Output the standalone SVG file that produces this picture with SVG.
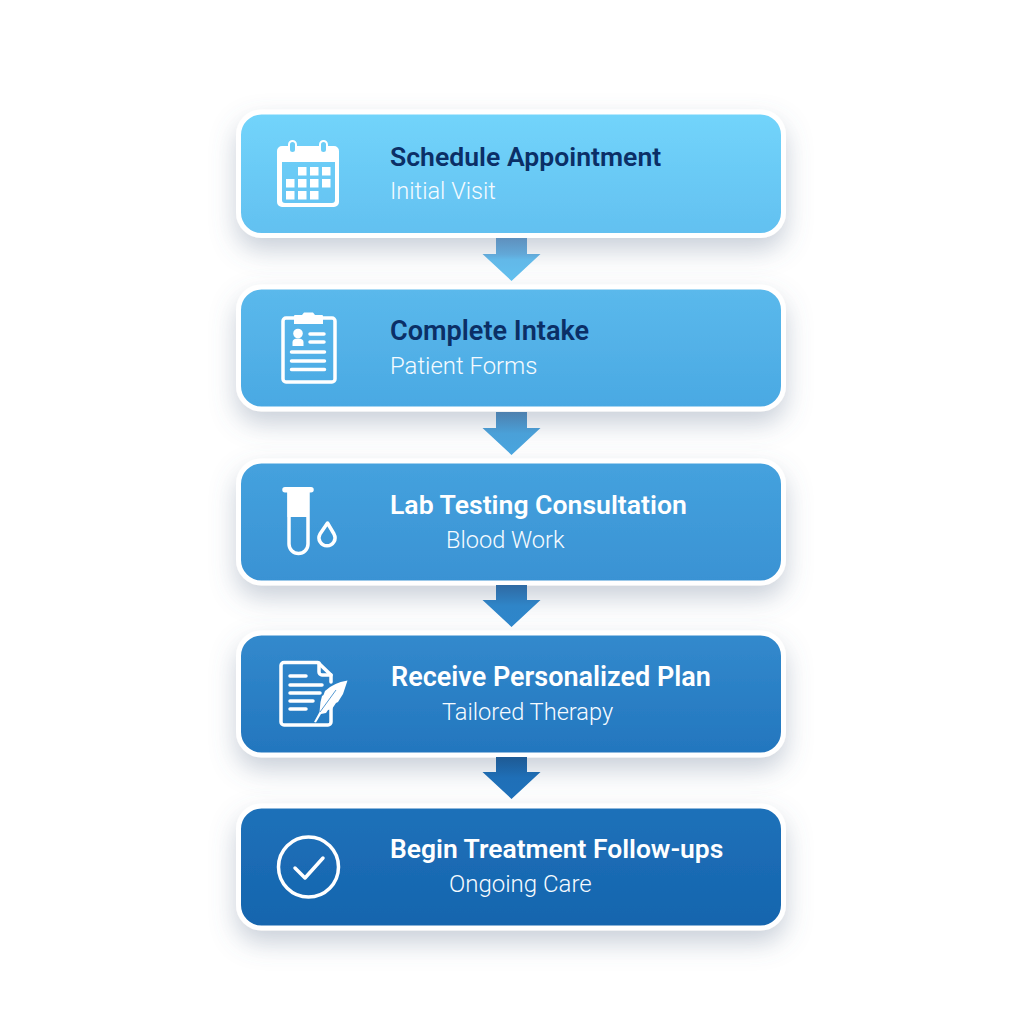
<svg xmlns="http://www.w3.org/2000/svg" width="1024" height="1024" viewBox="0 0 1024 1024">
<style>
.box{fill:url(#bg);stroke:#fff;stroke-width:5}
.t{font-family:Roboto,"Liberation Sans",sans-serif;font-size:26.600px;font-weight:600}
.d{fill:#0b2f66}.w{fill:#fff}
.s{font-family:Roboto,"Liberation Sans",sans-serif;font-size:23.600px;font-weight:300;fill:#f6fbff}
.i{fill:none;stroke:#fff;stroke-width:3.500;stroke-linecap:round;stroke-linejoin:round}
.f{fill:#fff}
</style>
<defs>
<linearGradient id="bg" gradientUnits="userSpaceOnUse" x1="0" y1="114" x2="0" y2="925">
<stop offset="0" stop-color="#72d4fb"/><stop offset=".15" stop-color="#62c0f0"/><stop offset=".36" stop-color="#4aa9e3"/><stop offset=".57" stop-color="#3a93d4"/><stop offset=".79" stop-color="#2376be"/><stop offset="1" stop-color="#1565ae"/>
</linearGradient>
<linearGradient id="a1" x1="0" y1="0" x2="0" y2="1"><stop offset="0" stop-color="#5f90bd"/><stop offset=".38" stop-color="#62a8d8"/><stop offset=".5" stop-color="#62b8e8"/><stop offset="1" stop-color="#62c0ef"/></linearGradient>
<linearGradient id="a2" x1="0" y1="0" x2="0" y2="1"><stop offset="0" stop-color="#4d80ae"/><stop offset=".5" stop-color="#4aa0d8"/><stop offset="1" stop-color="#48a5df"/></linearGradient>
<linearGradient id="a3" x1="0" y1="0" x2="0" y2="1"><stop offset="0" stop-color="#2f6aa3"/><stop offset=".5" stop-color="#2f85c8"/><stop offset="1" stop-color="#2e86cb"/></linearGradient>
<linearGradient id="a4" x1="0" y1="0" x2="0" y2="1"><stop offset="0" stop-color="#1e5a94"/><stop offset=".5" stop-color="#1f6fb7"/><stop offset="1" stop-color="#1f71ba"/></linearGradient>
<filter id="sh" x="-10%" y="-20%" width="120%" height="170%"><feDropShadow dx="0" dy="12" stdDeviation="13" flood-color="#5d7390" flood-opacity=".34"/></filter>
</defs>
<g id="node1">
<rect class="box" filter="url(#sh)" x="238.500" y="112" width="545" height="123.500" rx="23"/>
<path class="f" fill-rule="evenodd" d="M282 146H334A5 5 0 0 1 339 151V202A5 5 0 0 1 334 207H282A5 5 0 0 1 277 202V151A5 5 0 0 1 282 146ZM282 162V200A3 3 0 0 0 285 203H332A3 3 0 0 0 335 200V162Z"/>
<g fill="#fff"><rect x="298" y="167" width="8.500" height="8.500"/><rect x="310" y="167" width="8.500" height="8.500"/><rect x="322" y="167" width="8.500" height="8.500"/><rect x="286" y="179" width="8.500" height="8.500"/><rect x="298" y="179" width="8.500" height="8.500"/><rect x="310" y="179" width="8.500" height="8.500"/><rect x="322" y="179" width="8.500" height="8.500"/><rect x="286" y="191" width="8.500" height="8.500"/><rect x="298" y="191" width="8.500" height="8.500"/><rect x="310" y="191" width="8.500" height="8.500"/></g>
<rect x="289" y="141" width="7" height="12" rx="3.500" fill="#6ccdf6" stroke="#fff" stroke-width="2"/><rect x="320" y="141" width="7" height="12" rx="3.500" fill="#6ccdf6" stroke="#fff" stroke-width="2"/>
<text class="t d" x="390" y="166">Schedule Appointment</text>
<text class="s" x="390" y="199">Initial Visit</text>
</g>
<g id="node2">
<rect class="box" filter="url(#sh)" x="238.500" y="287" width="545" height="122" rx="23"/>
<rect class="i" x="283" y="318" width="52" height="64" rx="3"/>
<path class="f" d="M295 315H302L304 312.500H313L315 315H322A1 1 0 0 1 323 316V324H294V316A1 1 0 0 1 295 315Z"/>
<circle class="f" cx="298" cy="333.500" r="4.800"/>
<path class="f" d="M292.500 346V342Q292.500 338.500 298 338.500Q303.500 338.500 303.500 342V346Z"/>
<path class="i" stroke-width="3" d="M310 334H324M310 342H324M291.500 352H324.500M291.500 361H324.500M291.500 369.500H324.500"/>
<text class="t d" x="390" y="340" style="font-size:27.100px">Complete Intake</text>
<text class="s" x="390" y="374" style="font-size:23.900px">Patient Forms</text>
</g>
<g id="node3">
<rect class="box" filter="url(#sh)" x="238.500" y="461" width="545" height="122" rx="23"/>
<path class="f" d="M285 487H311A2.500 2.500 0 0 1 311 492.500H309V517H287.500V492.500H285A2.500 2.500 0 0 1 285 487Z"/>
<path class="i" stroke-width="3.800" d="M289 491V544A9.500 9.500 0 0 0 308 544V491"/>
<path class="i" stroke-width="3.200" d="M327.500 523L334 534A8 8 0 1 1 320 534Z"/>
<text class="t w" x="390" y="514">Lab Testing Consultation</text>
<text class="s" x="446" y="548">Blood Work</text>
</g>
<g id="node4">
<rect class="box" filter="url(#sh)" x="238.500" y="633" width="545" height="122" rx="23"/>
<path class="i" d="M331 682V675L318 662.500H284A3 3 0 0 0 281 665.500V722A3 3 0 0 0 284 725H328A3 3 0 0 0 331 722V705"/>
<path class="i" d="M319 663V672A3 3 0 0 0 322 675H331"/>
<path class="i" stroke-width="3" d="M290 676H306M290 685H322M290 693H320M290 701H313M290 709H306"/>
<path class="f" d="M347.500 680.500Q333 683 325 691L323.500 695L322 696L320.500 702L319.500 712L314 722L316 722.500L321 714L326 713L328 710L332 709L336 703L338 702L343 694Z"/>
<path d="M320 712L336 690" stroke="#2b80c6" stroke-width=".8" fill="none"/>
<text class="t w" x="391" y="686" style="font-size:27px">Receive Personalized Plan</text>
<text class="s" x="442" y="720">Tailored Therapy</text>
</g>
<g id="node5">
<rect class="box" filter="url(#sh)" x="238.500" y="806" width="545" height="122" rx="23"/>
<circle class="i" cx="308.500" cy="867" r="30"/>
<path class="i" stroke-width="5" d="M295 868L305 878L323 858"/>
<text class="t w" x="390" y="858" style="font-size:26.450px">Begin Treatment Follow-ups</text>
<text class="s" x="449" y="892" style="font-size:24px">Ongoing Care</text>
</g>
<g id="connectors">
<path fill="url(#a1)" d="M496 238H527V254H540.500L511.500 281L482.500 254H496Z"/>
<path fill="url(#a2)" d="M496 412H527V428H540.500L511.500 455L482.500 428H496Z"/>
<path fill="url(#a3)" d="M496 585H527V600H540.500L511.500 627L482.500 600H496Z"/>
<path fill="url(#a4)" d="M496 757H527V772H540.500L511.500 799L482.500 772H496Z"/>
</g>
</svg>
